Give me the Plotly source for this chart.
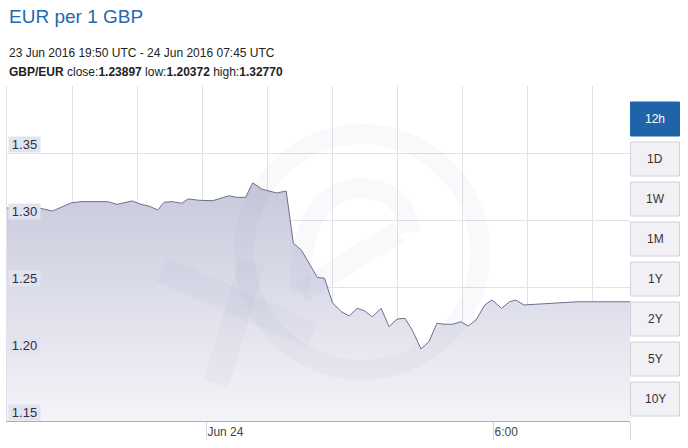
import plotly.graph_objects as go

# ---- data ----
times = [
    "2016-06-23 19:50", "2016-06-23 20:30", "2016-06-23 20:47", "2016-06-23 21:11",
    "2016-06-23 21:24", "2016-06-23 21:46", "2016-06-23 21:56", "2016-06-23 22:08",
    "2016-06-23 22:27", "2016-06-23 22:38", "2016-06-23 22:48", "2016-06-23 22:59",
    "2016-06-23 23:07", "2016-06-23 23:17", "2016-06-23 23:29", "2016-06-23 23:37",
    "2016-06-23 23:51", "2016-06-24 00:08", "2016-06-24 00:19", "2016-06-24 00:28",
    "2016-06-24 00:38", "2016-06-24 00:49", "2016-06-24 00:58", "2016-06-24 01:10",
    "2016-06-24 01:28", "2016-06-24 01:38", "2016-06-24 01:40", "2016-06-24 01:49",
    "2016-06-24 01:59", "2016-06-24 02:19", "2016-06-24 02:28", "2016-06-24 02:38",
    "2016-06-24 02:49", "2016-06-24 02:59", "2016-06-24 03:09", "2016-06-24 03:18",
    "2016-06-24 03:28", "2016-06-24 03:39", "2016-06-24 03:49", "2016-06-24 03:59",
    "2016-06-24 04:09", "2016-06-24 04:18", "2016-06-24 04:29", "2016-06-24 04:39",
    "2016-06-24 04:49", "2016-06-24 04:58", "2016-06-24 05:09", "2016-06-24 05:19",
    "2016-06-24 05:28", "2016-06-24 05:38", "2016-06-24 05:49", "2016-06-24 05:58",
    "2016-06-24 06:10", "2016-06-24 06:20", "2016-06-24 06:28", "2016-06-24 06:38",
    "2016-06-24 07:45", "2016-06-24 08:51",
]
rates = [
    1.3090, 1.3090, 1.3067, 1.3129,
    1.3137, 1.3140, 1.3137, 1.3117,
    1.3142, 1.3117, 1.3104, 1.3075,
    1.3132, 1.3137, 1.3125, 1.3157,
    1.3147, 1.3144, 1.3164, 1.3181,
    1.3169, 1.3169, 1.32770, 1.3229,
    1.3202, 1.3214, 1.3216, 1.2826,
    1.2776, 1.2572, 1.2565, 1.2383,
    1.2316, 1.2284, 1.2341, 1.2323,
    1.2278, 1.2341, 1.2204, 1.2261,
    1.2266, 1.2179, 1.20372, 1.2092,
    1.2229, 1.2222, 1.2222, 1.2241,
    1.2209, 1.2254, 1.2366, 1.2403,
    1.2341, 1.2390, 1.2403, 1.2366,
    1.23897, 1.23897,
]
x_range = ["2016-06-23 19:50", "2016-06-24 08:51"]
y_range = [1.15, 1.40]
y_tick_vals = [1.15, 1.20, 1.25, 1.30, 1.35]
y_tick_text = ["1.15", "1.20", "1.25", "1.30", "1.35"]
x_tick_vals = ["2016-06-24 00:00", "2016-06-24 06:00", "2016-06-24 08:51"]
x_tick_text = ["Jun 24", "6:00", ""]
buttons = ["12h", "1D", "1W", "1M", "1Y", "2Y", "5Y", "10Y"]

# ---- geometry helpers (pixel -> paper) ----
W, H = 688, 448
L, R, T, B = 7, 58, 86, 27
PW, PH = W - L - R, H - T - B


def px(x):
    return (x - L) / PW


def py(y):
    return (H - B - y) / PH


fig = go.Figure()
fig.add_trace(go.Scatter(
    x=times, y=rates, mode="lines",
    line=dict(color="#6c7090", width=1),
    fill="tozeroy",
    fillgradient=dict(type="vertical",
                      colorscale=[[0, "#f4f4f9"], [1, "#c7c9db"]],
                      start=1.15, stop=1.33),
    hoverinfo="skip", showlegend=False,
))

grid = "#e1e1e7"
fig.update_layout(
    width=W, height=H,
    margin=dict(l=L, r=R, t=T, b=B, pad=0),
    paper_bgcolor="white", plot_bgcolor="white",
    font=dict(family="Liberation Sans, Arial, sans-serif", size=12, color="#333"),
    showlegend=False,
    xaxis=dict(
        type="date", range=x_range, showgrid=False, zeroline=False,
        tickmode="array", tickvals=x_tick_vals, ticktext=x_tick_text,
        ticks="outside", ticklen=18, tickcolor="#d6d6de", tickwidth=1,
        ticklabelposition="outside right",
        tickfont=dict(size=12, color="#444"),
        showline=True, linecolor="#a9abc0", linewidth=1,
        minor=dict(tickmode="linear", tick0=x_range[0], dtick=4892000,
                   showgrid=True, gridcolor=grid, gridwidth=1, ticks=""),
    ),
    yaxis=dict(
        range=y_range, tickmode="linear", tick0=1.15, dtick=0.05,
        showgrid=True, gridcolor=grid, gridwidth=1, zeroline=False,
        showticklabels=False, ticks="",
        showline=True, linecolor=grid, mirror=False,
    ),
)

# y tick labels in small lavender boxes just above each grid line
for v, t in zip(y_tick_vals, y_tick_text):
    fig.add_annotation(x=0, xref="paper", xanchor="left", xshift=1,
                       y=v, yref="y", yanchor="bottom",
                       text=t, showarrow=False, width=31, height=15,
                       bgcolor="#e3e3f0", borderpad=0,
                       font=dict(size=13, color="#2e2e48"))

# header texts
fig.add_annotation(x=px(7), y=py(16), xref="paper", yref="paper",
                   xanchor="left", yanchor="middle", showarrow=False,
                   text="EUR per 1 GBP",
                   font=dict(size=19, color="#2169b0"))
fig.add_annotation(x=px(7), y=py(53), xref="paper", yref="paper",
                   xanchor="left", yanchor="middle", showarrow=False,
                   text="23 Jun 2016 19:50 UTC - 24 Jun 2016 07:45 UTC",
                   font=dict(size=12, color="#222"))
fig.add_annotation(x=px(7), y=py(72), xref="paper", yref="paper",
                   xanchor="left", yanchor="middle", showarrow=False,
                   text="<b>GBP/EUR</b> close:<b>1.23897</b> low:<b>1.20372</b> high:<b>1.32770</b>",
                   font=dict(size=12, color="#222"))

# range buttons on the right
for i, lab in enumerate(buttons):
    top = 102 + 40 * i
    active = i == 0
    fig.add_shape(type="rect", xref="paper", yref="paper",
                  x0=px(630.5), x1=px(679.5), y0=py(top), y1=py(top + 34),
                  fillcolor="#1f64a9" if active else "#f0f0f5",
                  line=dict(color="#1f64a9" if active else "#d2d2dc", width=1),
                  layer="above")
    fig.add_annotation(x=px(655), y=py(top + 17), xref="paper", yref="paper",
                       xanchor="center", yanchor="middle", showarrow=False,
                       text=lab,
                       font=dict(size=12, color="white" if active else "#333"))

# faint "xe" watermark
wm = "rgba(110,110,165,0.045)"
cx, cy, r = 362, 252, 118
fig.add_shape(type="circle", xref="paper", yref="paper",
              x0=px(cx - r), x1=px(cx + r), y0=py(cy + r), y1=py(cy - r),
              line=dict(color=wm, width=20), fillcolor="rgba(0,0,0,0)", layer="above")
fig.add_shape(type="line", xref="paper", yref="paper",
              x0=px(162), y0=py(270), x1=px(312), y1=py(335),
              line=dict(color=wm, width=26), layer="above")
fig.add_shape(type="line", xref="paper", yref="paper",
              x0=px(252), y0=py(262), x1=px(216), y1=py(384),
              line=dict(color=wm, width=26), layer="above")
fig.add_shape(type="line", xref="paper", yref="paper",
              x0=px(300), y0=py(292), x1=px(398), y1=py(232),
              line=dict(color=wm, width=22), layer="above")
fig.add_shape(type="path", xref="paper", yref="paper",
              path=(f"M {px(300)},{py(292)} Q {px(300)},{py(190)} {px(360)},{py(188)} "
                    f"Q {px(405)},{py(190)} {px(410)},{py(232)}"),
              line=dict(color=wm, width=20), layer="above")

fig.write_html("out.html",
               config={"displayModeBar": False, "staticPlot": True},
               post_script="document.body.style.margin='0';document.body.style.padding='0';")
